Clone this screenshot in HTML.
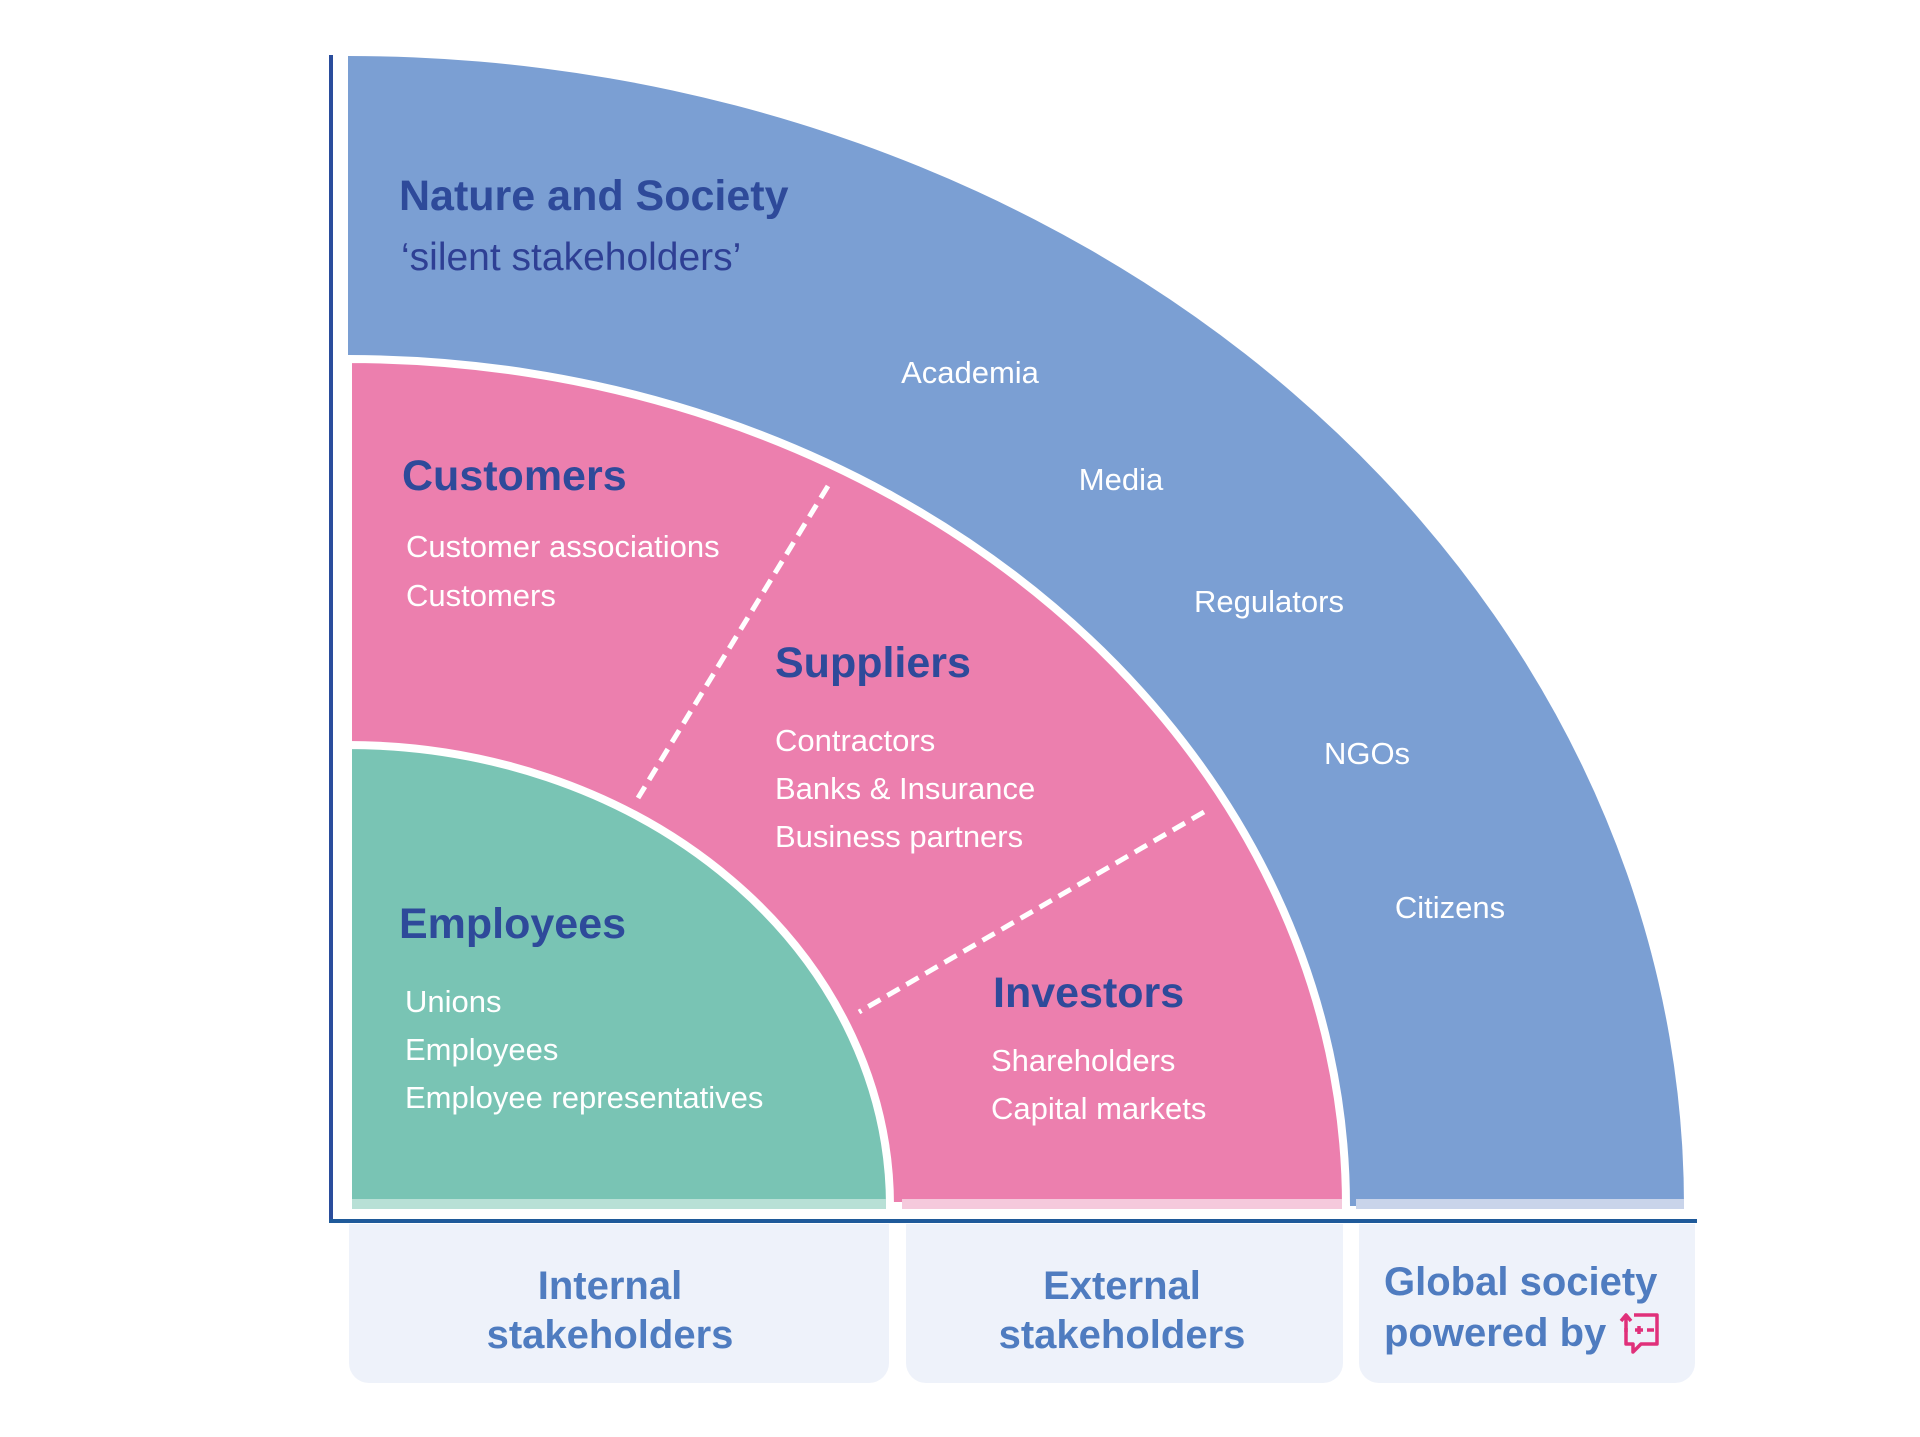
<!DOCTYPE html>
<html><head><meta charset="utf-8"><style>
html,body{margin:0;padding:0;background:#fff;}
svg{display:block;}
text{font-family:"Liberation Sans",sans-serif;}
</style></head><body>
<svg width="1920" height="1437" viewBox="0 0 1920 1437" xmlns="http://www.w3.org/2000/svg">
<path d="M348 1206 L348 56 A1336 1150 0 0 1 1684 1206 Z" fill="#7b9fd3"/>
<rect x="1356" y="1199" width="328" height="10" fill="#c9d4ea"/>
<path d="M348 1206 L348 359 A998 847 0 0 1 1346 1206 Z" fill="#ec7fae" stroke="#fff" stroke-width="8"/>
<rect x="902" y="1199" width="440" height="10" fill="#f5c9dc"/>
<path d="M348 1206 L348 745 A542 461 0 0 1 890 1206 Z" fill="#79c4b4" stroke="#fff" stroke-width="8"/>
<rect x="352" y="1199" width="534" height="10" fill="#b8e0d6"/>
<rect x="340" y="1209" width="1360" height="11" fill="#fff"/>
<line x1="828" y1="486" x2="638" y2="798" stroke="#fff" stroke-width="5" stroke-dasharray="14 8"/>
<line x1="1204" y1="812" x2="859" y2="1012" stroke="#fff" stroke-width="5" stroke-dasharray="14 8"/>
<line x1="331" y1="55" x2="331" y2="1222" stroke="#2a4d9c" stroke-width="4"/>
<line x1="329" y1="1221" x2="1697" y2="1221" stroke="#1f5a9a" stroke-width="4"/>
<path d="M349 1224 H889 V1363 a20 20 0 0 1 -20 20 H369 a20 20 0 0 1 -20 -20 Z" fill="#eef2fa"/>
<path d="M906 1224 H1343 V1363 a20 20 0 0 1 -20 20 H926 a20 20 0 0 1 -20 -20 Z" fill="#eef2fa"/>
<path d="M1359 1224 H1695 V1363 a20 20 0 0 1 -20 20 H1379 a20 20 0 0 1 -20 -20 Z" fill="#eef2fa"/>
<g font-weight="bold" fill="#2e4a9a" font-size="43">
<text x="399" y="210">Nature and Society</text>
<text x="402" y="490">Customers</text>
<text x="775" y="677">Suppliers</text>
<text x="399" y="938">Employees</text>
<text x="993" y="1007">Investors</text>
</g>
<text x="401" y="270" font-size="39" fill="#2e3f94">‘silent stakeholders’</text>
<g fill="#fff" font-size="31">
<text x="970" y="383" text-anchor="middle">Academia</text>
<text x="1121" y="490" text-anchor="middle">Media</text>
<text x="1269" y="612" text-anchor="middle">Regulators</text>
<text x="1367" y="764" text-anchor="middle">NGOs</text>
<text x="1450" y="918" text-anchor="middle">Citizens</text>
<text x="406" y="557">Customer associations</text>
<text x="406" y="606">Customers</text>
<text x="775" y="751">Contractors</text>
<text x="775" y="799">Banks &amp; Insurance</text>
<text x="775" y="847">Business partners</text>
<text x="405" y="1012">Unions</text>
<text x="405" y="1060">Employees</text>
<text x="405" y="1108">Employee representatives</text>
<text x="991" y="1071">Shareholders</text>
<text x="991" y="1119">Capital markets</text>
</g>
<g font-weight="bold" fill="#4f7cc0" font-size="40">
<text x="610" y="1299" text-anchor="middle">Internal</text>
<text x="610" y="1348" text-anchor="middle">stakeholders</text>
<text x="1122" y="1299" text-anchor="middle">External</text>
<text x="1122" y="1348" text-anchor="middle">stakeholders</text>
<text x="1384" y="1295">Global society</text>
<text x="1384" y="1346">powered by</text>
</g>
<g fill="none" stroke="#e0307a" stroke-width="3.5" stroke-linejoin="round">
<path d="M1626 1328 V1344 H1633 V1352 L1641 1344 H1657 V1315 H1634"/>
<path d="M1626 1332 V1316 M1621 1321 L1626 1315 L1631 1321"/>
<path d="M1635 1330 h8 M1639 1326 v8 M1647 1330 h7"/>
</g>
</svg>
</body></html>
